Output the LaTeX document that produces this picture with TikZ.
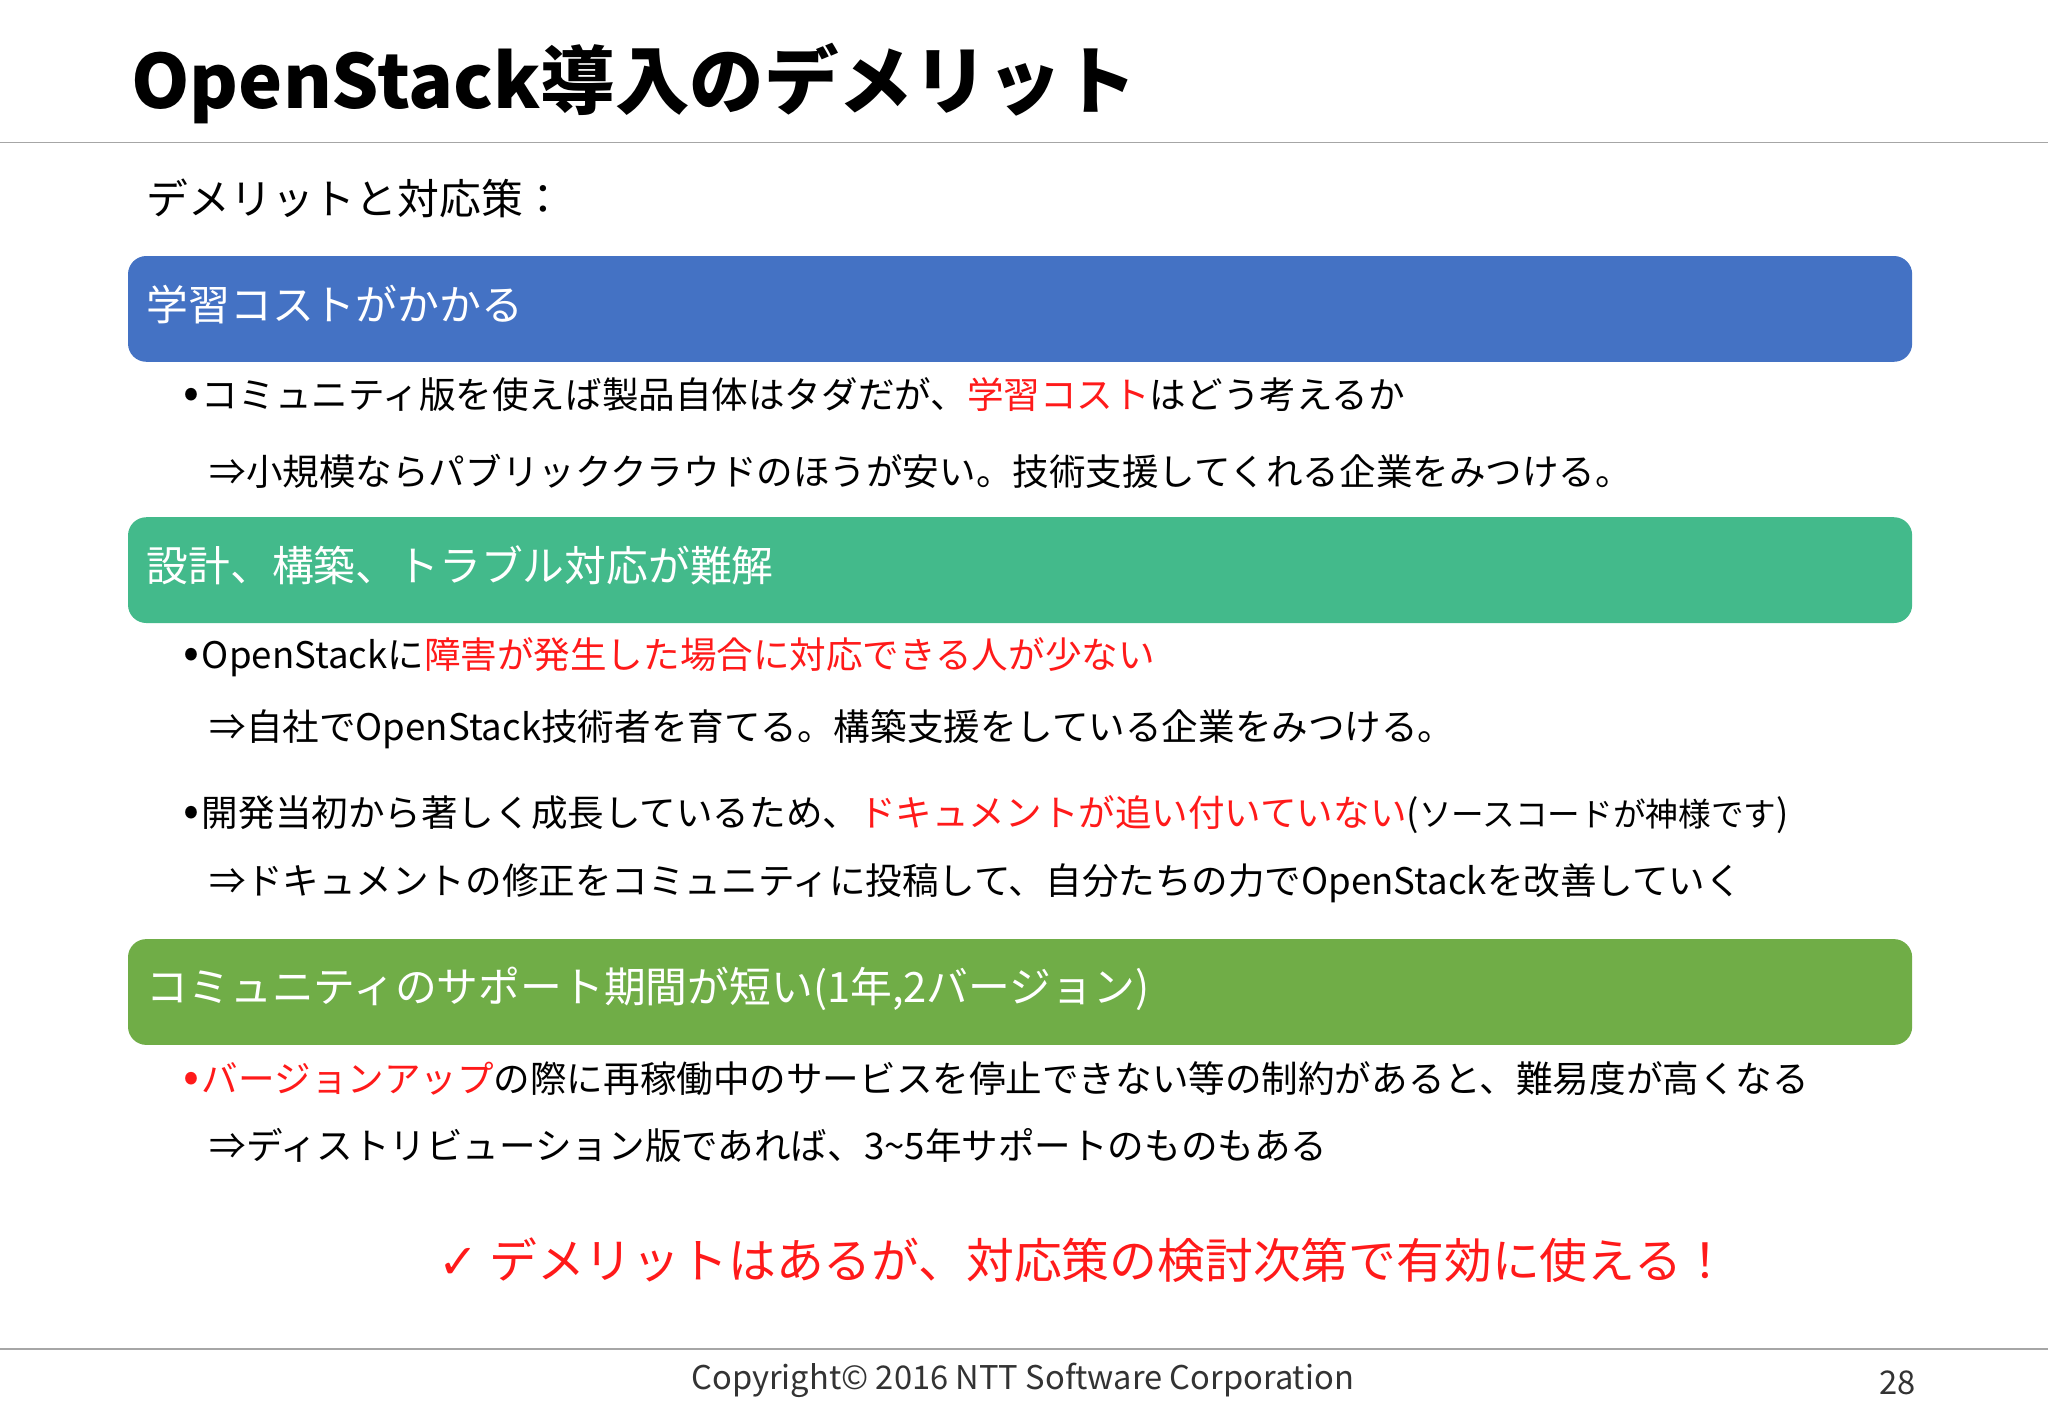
\documentclass[tikz,border=0pt]{standalone}
\usepackage{fontspec}
\setmainfont{Noto Sans CJK JP}
\newfontfamily\djv{DejaVu Sans}
\definecolor{bluebox}{HTML}{4472C4}
\definecolor{tealbox}{HTML}{43BA8B}
\definecolor{greenbox}{HTML}{70AD47}
\definecolor{myred}{HTML}{FF1A1A}
\definecolor{rule}{HTML}{A6A6A6}
\newcommand{\bul}{{\fontsize{18}{18}\selectfont •}\hspace{1pt}}
\begin{document}
\begin{tikzpicture}[x=0.5pt,y=-0.5pt,
  hdr/.style={rounded corners=7pt,inner sep=0pt},
  hdrtext/.style={anchor=west,text=white,font=\fontsize{16}{18}\selectfont,inner sep=0pt},
  body/.style={anchor=west,font=\fontsize{14}{16}\selectfont,inner sep=0pt},
]
\useasboundingbox (0,0) rectangle (1568,1086);
\fill[white] (0,0) rectangle (1568,1086);
\node[anchor=west,inner sep=0pt,font=\fontsize{28.5}{34}\selectfont\bfseries] (title) at (100,64) {OpenStack導入のデメリット};
\draw[rule,line width=0.6pt] (0,109) -- (1568,109);
\node[anchor=west,inner sep=0pt,font=\fontsize{16}{18}\selectfont] (sub) at (112,152) {デメリットと対応策：};

\fill[bluebox,hdr] (98,196) rectangle (1464,277);
\node[hdrtext] (h1) at (112,233) {学習コストがかかる};
\node[body] (l1) at (140,302) {\bul コミュニティ版を使えば製品自体はタダだが、\textcolor{myred}{学習コスト}はどう考えるか};
\node[body] (l2) at (160,361) {⇒小規模ならパブリッククラウドのほうが安い。技術支援してくれる企業をみつける。};

\fill[tealbox,hdr] (98,396) rectangle (1464,477);
\node[hdrtext] (h2) at (112,433) {設計、構築、トラブル対応が難解};
\node[body] (l3) at (140,503) {\bul OpenStackに\textcolor{myred}{障害が発生した場合に対応できる人が少ない}};
\node[body] (l4) at (160,558) {⇒自社でOpenStack技術者を育てる。構築支援をしている企業をみつける。};
\node[body] (l5) at (140,624) {\bul 開発当初から著しく成長しているため、\textcolor{myred}{ドキュメントが追い付いていない}({\fontsize{12.5}{14}\selectfont ソースコードが神様です})};
\node[body] (l6) at (160,676) {⇒ドキュメントの修正をコミュニティに投稿して、自分たちの力でOpenStackを改善していく};

\fill[greenbox,hdr] (98,719) rectangle (1464,800);
\node[hdrtext] (h3) at (112,757) {コミュニティのサポート期間が短い(1年,2バージョン)};
\node[body] (l7) at (140,826) {\textcolor{myred}{\bul バージョンアップ}の際に再稼働中のサービスを停止できない等の制約があると、難易度が高くなる};
\node[body] (l8) at (160,877) {⇒ディストリビューション版であれば、3\textasciitilde5年サポートのものもある};

\node[anchor=center,inner sep=0pt,text=myred,font=\fontsize{18.3}{20}\selectfont] (concl) at (830,965) {{\djv ✓} デメリットはあるが、対応策の検討次第で有効に使える！};

\draw[rule,line width=0.6pt] (0,1033) -- (1568,1033);
\node[inner sep=0pt,font=\fontsize{12.5}{14}\selectfont,text=black!80] (copy) at (783,1057) {Copyright© 2016 NTT Software Corporation};
\node[inner sep=0pt,font=\fontsize{12.5}{14}\selectfont,text=black!80] (pg) at (1453,1059) {28};
\end{tikzpicture}
\end{document}
